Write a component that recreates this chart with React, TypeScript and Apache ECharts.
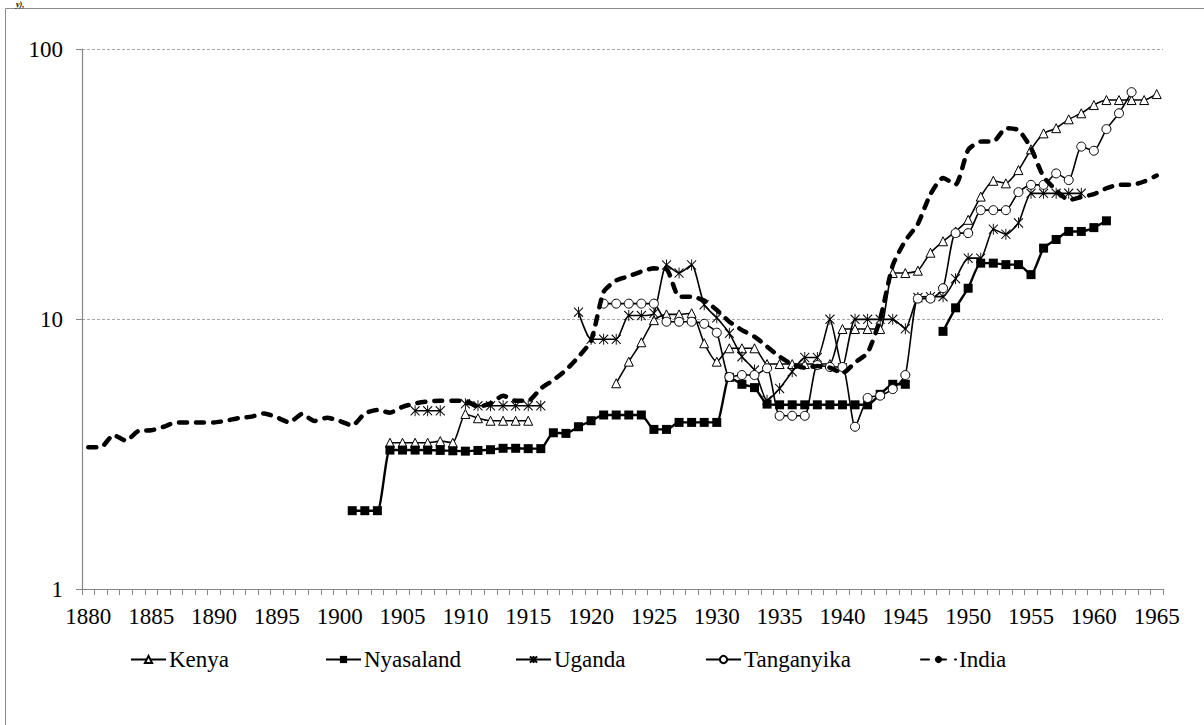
import React, { useEffect, useRef } from "react";
import * as echarts from "echarts";

const years: string[] = [];
for (let y = 1880; y <= 1965; y++) years.push(String(y));

const kenyaStart = 1904;
const kenyaValues = [
  3.48, 3.48, 3.48, 3.48, 3.53, 3.48, 4.45, 4.29, 4.2, 4.2, 4.2, 4.2,
  null, null, null, null, null, null,
  5.78, 6.95, 8.2, 9.9, 10.4, 10.4, 10.5, 8.13, 6.95, 7.79, 7.79, 7.79,
  6.81, 6.81, 6.81, 6.81, 6.81, 6.81, 9.18, 9.18, 9.18, 9.18,
  14.8, 14.8, 15.1, 17.6, 19.4, 21.1, 23.3, 28.4, 32.5, 31.8, 35.6, 42.5,
  48.7, 50.9, 54.9, 57.8, 62.0, 64.7, 64.7, 64.7, 64.7, 68.1,
];

const nyasalandStart = 1901;
const nyasalandValues = [
  1.95, 1.95, 1.95, 3.27, 3.27, 3.27, 3.27, 3.26, 3.25, 3.24, 3.26, 3.28,
  3.32, 3.32, 3.31, 3.31, 3.79, 3.77, 3.99, 4.2, 4.41, 4.41, 4.41, 4.41,
  3.9, 3.9, 4.14, 4.14, 4.14, 4.14, 6.08, 5.73, 5.57, 4.84, 4.81, 4.81,
  4.81, 4.81, 4.81, 4.81, 4.81, 4.81, 5.26, 5.73, 5.73, null, null,
  9.0, 11.0, 13.0, 16.1, 16.1, 15.9, 15.9, 14.6, 18.3, 19.7, 21.1, 21.1,
  21.8, 23.1,
];

const ugandaStart = 1906;
const ugandaValues = [
  4.57, 4.57, 4.57, null, 4.85, 4.77, 4.77, 4.77, 4.77, 4.77, 4.77,
  null, null,
  10.6, 8.41, 8.41, 8.41, 10.3, 10.3, 10.5, 15.85, 14.8, 15.85, 11.3, 10.1,
  8.85, 7.25, 6.47, 5.0, 5.53, 6.38, 7.2, 7.2, 9.97, 6.6, 9.97, 9.97,
  9.97, 9.97, 9.2, 12.0, 12.1, 12.1, 14.1, 16.8, 16.8, 21.5, 20.6, 22.7,
  29.2, 29.2, 29.2, 29.2, 29.2,
];

const tanganyikaStart = 1921;
const tanganyikaValues = [
  11.4, 11.4, 11.4, 11.4, 11.4, 9.77, 9.77, 9.77, 9.6, 8.9, 6.1, 6.2, 6.2,
  6.57, 4.38, 4.38, 4.38, 6.75, 6.64, 6.64, 3.99, 5.1, 5.2, 5.5, 6.2,
  11.9, 11.9, 13.0, 20.8, 20.8, 25.3, 25.3, 25.3, 29.5, 31.4, 31.4, 34.6,
  32.7, 43.5, 42.0, 50.5, 57.8, 69.2,
];

const indiaStart = 1880;
const indiaValues = [
  3.35, 3.35, 3.72, 3.54, 3.85, 3.87, 3.99, 4.14, 4.14, 4.14, 4.14, 4.2,
  4.3, 4.35, 4.47, 4.32, 4.14, 4.45, 4.19, 4.31, 4.19, 4.03, 4.47, 4.6,
  4.5, 4.73, 4.87, 4.95, 4.98, 4.98, 4.98, 4.73, 4.87, 5.2, 4.98, 4.98,
  5.53, 5.94, 6.47, 7.25, 8.3, 12.6, 13.9, 14.4, 15.0, 15.4, 15.3, 12.1,
  12.1, 11.7, 10.8, 9.77, 9.1, 8.6, 7.9, 7.25, 6.8, 6.6, 6.7, 6.6, 6.3,
  6.9, 7.5, 10.0, 15.8, 19.5, 22.5, 29.0, 33.3, 31.5, 42.3, 45.4, 45.4,
  50.9, 50.1, 42.9, 33.6, 30.0, 27.6, 28.3, 29.0, 30.5, 31.4, 31.4, 32.3,
  34.0,
];

const yTicks = [1, 10, 100];

function toFull(start: number, vals: (number | null)[]) {
  return years.map((y) => {
    const i = Number(y) - start;
    if (i < 0 || i >= vals.length) return null;
    const v = vals[i];
    return v == null ? null : v;
  });
}

const FONT = '"Liberation Serif", "Times New Roman", Times, serif';
const ASTERISK = "path://M0,1L10,11M10,1L0,11M5,0L5,12";
const SMOOTH = 0.2;

export default function App() {
  const ref = useRef<HTMLDivElement>(null);
  useEffect(() => {
    if (!ref.current) return;
    const chart = echarts.init(ref.current, null, { renderer: "svg" });
    const thin = { color: "#000", width: 1.6 };
    const legendBase = {
      top: 648,
      padding: 0,
      itemWidth: 35,
      itemHeight: 9,
      textStyle: { fontFamily: FONT, fontSize: 23, color: "#000", padding: [0, 0, 0, -2] },
      itemGap: 4,
    };
    const common = {
      type: "line",
      smooth: SMOOTH,
      connectNulls: false,
      showSymbol: true,
      showAllSymbol: true,
    };
    chart.setOption({
      animation: false,
      backgroundColor: "#fff",
      textStyle: { fontFamily: FONT },
      grid: { left: 82, right: 41, top: 49, bottom: 136, containLabel: false },
      xAxis: {
        type: "category",
        data: years,
        boundaryGap: true,
        axisLine: { lineStyle: { color: "#868686", width: 1.2 } },
        axisTick: { show: true, interval: 0, length: 6, lineStyle: { color: "#868686" } },
        axisLabel: {
          interval: 4,
          fontFamily: FONT,
          fontSize: 23,
          color: "#000",
          margin: 16,
        },
        splitLine: { show: false },
      },
      yAxis: {
        type: "log",
        logBase: 10,
        min: yTicks[0],
        max: yTicks[yTicks.length - 1],
        axisLine: { show: true, lineStyle: { color: "#868686", width: 1.2 } },
        axisTick: { show: true, length: 6, lineStyle: { color: "#868686" } },
        axisLabel: { fontFamily: FONT, fontSize: 23, color: "#000", margin: 19 },
        splitLine: { show: true, lineStyle: { color: "#a6a6a6", type: [3, 2], width: 1 } },
        minorTick: { show: false },
      },
      legend: [
        { ...legendBase, left: 130, data: ["Kenya"] },
        { ...legendBase, left: 325, data: ["Nyasaland"] },
        { ...legendBase, left: 515, data: ["Uganda"] },
        { ...legendBase, left: 705, data: ["Tanganyika"] },
        { ...legendBase, left: 920, data: ["India"] },
      ],
      graphic: [
        {
          type: "rect",
          shape: { x: 5.5, y: 8.5, width: 1300, height: 900 },
          style: { fill: "none", stroke: "#8c8c8c", lineWidth: 1 },
          silent: true,
        },
        {
          type: "text",
          left: 16,
          top: 0,
          style: {
            text: "y),",
            fontFamily: FONT,
            fontSize: 8,
            fontStyle: "italic",
            fontWeight: "bold",
            fill: "#000",
          },
          silent: true,
        },
      ],
      series: [
        {
          ...common,
          name: "Kenya",
          data: toFull(kenyaStart, kenyaValues),
          symbol: "triangle",
          symbolSize: 9,
          itemStyle: { color: "#fff", borderColor: "#000", borderWidth: 1 },
          lineStyle: thin,
          z: 2,
        },
        {
          ...common,
          name: "Nyasaland",
          data: toFull(nyasalandStart, nyasalandValues),
          symbol: "rect",
          symbolSize: 9,
          itemStyle: { color: "#000", borderColor: "#000", borderWidth: 0 },
          lineStyle: { color: "#000", width: 2.4 },
          z: 3,
        },
        {
          ...common,
          name: "Uganda",
          data: toFull(ugandaStart, ugandaValues),
          symbol: ASTERISK,
          symbolSize: [9, 11],
          itemStyle: { color: "#000", borderColor: "#000", borderWidth: 1 },
          lineStyle: thin,
          z: 4,
        },
        {
          ...common,
          name: "Tanganyika",
          data: toFull(tanganyikaStart, tanganyikaValues),
          symbol: "circle",
          symbolSize: 9,
          itemStyle: { color: "#fff", borderColor: "#000", borderWidth: 1 },
          lineStyle: thin,
          z: 5,
        },
        {
          ...common,
          name: "India",
          data: toFull(indiaStart, indiaValues),
          symbol: "none",
          showSymbol: false,
          itemStyle: { color: "#000" },
          lineStyle: { color: "#000", width: 4.5, type: [8, 9], cap: "round" },
          z: 6,
        },
      ],
    });
    return () => chart.dispose();
  }, []);
  return (
    <div
      ref={ref}
      style={{ position: "fixed", left: 0, top: 0, width: 1204, height: 725, background: "#fff" }}
    />
  );
}
